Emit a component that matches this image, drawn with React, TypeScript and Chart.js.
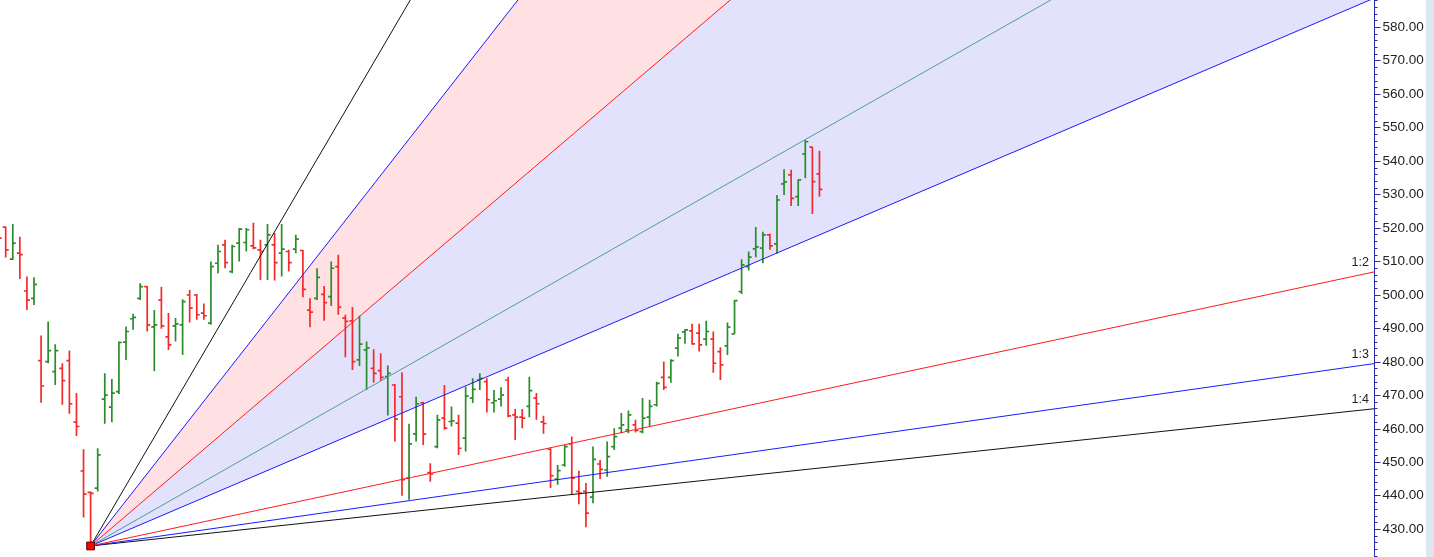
import React, { useEffect, useRef } from "react";
import { Chart, registerables } from "chart.js";

Chart.register(...registerables);

// ---- OHLC data (bar index starts at firstBar) ----
const firstBar = -1;
const opens = [
  519.5, 520.2, 510.6, 512.4, 501.1, 498.9, 480.3, 480.0, 477.0, 478.0, 480.3, 461.9, 447.3, 440.9, 442.2, 468.8,
  466.4, 471.0, 485.8, 492.8, 498.9, 502.4, 490.4, 498.4, 487.4, 490.7, 491.0, 499.9, 499.9, 494.5, 491.5, 509.4,
  514.9, 506.9, 515.4, 515.6, 514.6, 513.4, 514.9, 514.9, 512.4, 512.9, 513.6, 513.2, 495.4, 498.9, 500.1, 499.4,
  508.4, 493.0, 492.2, 480.5, 483.5, 478.0, 477.3, 475.5, 473.0, 469.5, 445.2, 458.4, 467.7, 446.8, 454.6, 463.1,
  462.1, 461.6, 457.1, 469.1, 474.5, 474.0, 467.7, 468.8, 474.5, 464.1, 463.4, 466.6, 469.1, 462.0, 453.8, 444.9,
  449.1, 455.4, 441.2, 441.2, 439.5, 449.4, 447.6, 454.6, 460.1, 459.6, 461.1, 459.1, 463.4, 467.1, 475.3, 475.3,
  484.0, 488.9, 489.2, 488.5, 486.7, 486.7, 483.0, 484.7, 488.3, 500.9, 508.4, 513.7, 513.9, 517.9, 515.2, 533.1,
  535.8, 529.3, 542.1, 544.1, 536.1,
];
const highs = [
  520.5, 520.3, 521.1, 517.3, 505.4, 505.2, 487.8, 492.0, 485.2, 479.5, 483.3, 470.6, 453.8, 441.2, 454.1, 476.5,
  474.8, 486.0, 490.5, 494.3, 503.4, 502.5, 495.4, 502.4, 494.5, 493.0, 498.6, 501.4, 500.2, 497.4, 509.9, 514.9,
  516.4, 514.9, 519.9, 519.9, 521.5, 516.4, 521.1, 518.4, 521.1, 513.4, 517.9, 513.4, 498.9, 507.9, 502.6, 509.9,
  511.9, 494.0, 496.3, 493.7, 486.0, 483.7, 482.5, 478.8, 473.3, 476.8, 461.4, 469.5, 468.0, 449.6, 464.1, 473.0,
  466.6, 464.1, 472.5, 475.0, 476.5, 475.0, 471.5, 472.3, 475.5, 465.8, 465.8, 475.5, 470.6, 463.8, 454.1, 449.1,
  455.1, 457.6, 447.4, 443.7, 454.6, 450.6, 456.1, 460.1, 464.6, 465.4, 462.6, 469.1, 468.6, 474.0, 480.0, 480.7,
  488.3, 489.7, 491.3, 491.3, 492.2, 489.0, 484.3, 491.7, 498.4, 510.6, 512.9, 520.2, 518.8, 518.2, 529.8, 537.5,
  537.3, 534.5, 546.2, 544.2, 543.0,
];
const lows = [
  512.0, 511.1, 510.4, 504.7, 495.4, 496.9, 467.7, 479.5, 473.0, 467.1, 464.4, 457.8, 433.4, 424.9, 441.2, 461.4,
  461.9, 470.3, 480.5, 489.5, 498.4, 489.0, 477.1, 489.8, 483.5, 486.0, 482.0, 491.7, 492.5, 492.5, 491.0, 506.4,
  507.9, 506.4, 509.9, 512.9, 513.6, 504.4, 504.4, 504.2, 505.4, 506.9, 512.4, 499.2, 490.3, 498.4, 492.2, 496.6,
  494.0, 481.3, 477.5, 478.7, 471.5, 473.7, 474.3, 463.9, 456.1, 439.9, 438.7, 456.1, 455.1, 444.1, 454.1, 459.6,
  460.6, 452.1, 453.1, 467.6, 471.5, 464.8, 464.8, 466.6, 463.4, 456.6, 460.1, 463.4, 462.6, 458.4, 442.2, 443.2,
  448.6, 440.2, 437.4, 430.5, 437.7, 444.9, 445.6, 453.6, 458.6, 458.6, 458.8, 458.6, 460.6, 466.6, 471.5, 473.7,
  481.5, 485.3, 485.0, 483.0, 484.7, 476.7, 474.5, 482.0, 488.3, 500.2, 507.2, 511.2, 509.4, 513.4, 512.2, 529.8,
  526.5, 526.5, 534.8, 524.1, 529.3,
];
const closes = [
  516.9, 513.4, 515.4, 512.0, 498.4, 503.1, 472.7, 483.3, 483.3, 474.3, 467.4, 460.6, 440.4, 440.6, 452.1, 470.0,
  470.6, 485.7, 489.0, 493.2, 502.4, 491.0, 491.0, 490.7, 485.0, 491.3, 497.9, 496.0, 494.0, 493.7, 508.4, 512.9,
  509.6, 514.4, 519.6, 519.4, 514.0, 512.9, 517.9, 509.6, 513.6, 509.6, 516.6, 501.6, 494.8, 505.2, 497.6, 507.9,
  496.3, 492.0, 480.0, 485.2, 484.1, 476.5, 475.3, 476.5, 462.8, 444.7, 455.4, 467.4, 458.3, 446.4, 462.6, 460.1,
  462.3, 454.1, 469.7, 471.7, 475.0, 468.6, 468.3, 470.0, 463.8, 463.4, 463.1, 471.3, 467.4, 461.5, 445.9, 447.4,
  454.6, 445.2, 440.7, 434.7, 450.8, 447.8, 451.6, 457.6, 461.1, 464.1, 459.4, 463.1, 466.6, 473.5, 472.3, 480.3,
  487.0, 489.5, 485.3, 485.0, 489.0, 479.5, 479.0, 490.3, 498.2, 508.9, 511.2, 514.3, 517.9, 514.6, 528.3, 533.7,
  528.8, 534.3, 545.7, 533.8, 531.5,
];

// ---- Gann fan ----
const fanOriginBar = 12;
const fanOriginPrice = 424.9;
const fanEndBar = 193.37;
const fanNames = ["4:1", "3:1", "2:1", "4:3", "1:1", "1:2", "1:3", "1:4"];
const fanEndPrices = [1080, 915, 752.3, 643, 588.6, 506.8, 479.4, 465.9];
const fanLabelled = ["1:2", "1:3", "1:4"];

// ---- axis ----
const xMin = -0.806;
const xMax = 193.37;
const yMin = 421.6;
const yMax = 588.07;
const majorStep = 10;
const minorStep = 2;

// ---- styles ----
const fanColors = ["#111111", "#1a1aff", "#ff1a1a", "#4f9c98", "#1a1aff", "#ff1a1a", "#1a1aff", "#111111"];
const fanFill: (string | false)[] = [false, "+1", "+2", false, false, false, false, false];
const fanFillColors = ["transparent", "#ffe0e3", "#e2e2fd", "transparent", "transparent", "transparent", "transparent", "transparent"];
const upColor = "#2b8c2b";
const downColor = "#f42a2a";
const axisColor = "#2a2aa8";
const textColor = "#222222";
const FONT = '13.5px "Liberation Sans", Arial, sans-serif';

const ohlcPlugin = {
  id: "ohlcBars",
  beforeDatasetsDraw(chart: any) {
    const { ctx, chartArea, scales } = chart;
    const xs = scales.x;
    const ys = scales.y;
    ctx.save();
    ctx.beginPath();
    ctx.rect(chartArea.left, chartArea.top, chartArea.right - chartArea.left, chartArea.bottom - chartArea.top);
    ctx.clip();
    ctx.lineWidth = 1.7;
    for (let k = 0; k < opens.length; k++) {
      const px = xs.getPixelForValue(firstBar + k);
      const o = ys.getPixelForValue(opens[k]);
      const h = ys.getPixelForValue(highs[k]);
      const l = ys.getPixelForValue(lows[k]);
      const c = ys.getPixelForValue(closes[k]);
      ctx.strokeStyle = closes[k] >= opens[k] ? upColor : downColor;
      ctx.beginPath();
      ctx.moveTo(px, h);
      ctx.lineTo(px, l);
      ctx.moveTo(px - 3, o);
      ctx.lineTo(px, o);
      ctx.moveTo(px, c);
      ctx.lineTo(px + 3, c);
      ctx.stroke();
    }
    ctx.restore();
  },
};

const axisPlugin = {
  id: "rightAxis",
  afterDraw(chart: any) {
    const { ctx, chartArea, scales, width, height } = chart;
    const ys = scales.y;
    const ax = Math.round(chartArea.right) + 0.5;
    ctx.save();
    ctx.fillStyle = "#dde6f1";
    ctx.fillRect(width - 8, 0, 8, height);
    ctx.strokeStyle = axisColor;
    ctx.lineWidth = 1;
    ctx.beginPath();
    ctx.moveTo(ax, 0);
    ctx.lineTo(ax, height);
    ctx.stroke();
    ctx.font = FONT;
    ctx.textAlign = "left";
    ctx.textBaseline = "middle";
    for (let v = Math.ceil((yMin - 2) / minorStep) * minorStep; v <= yMax + 2; v += minorStep) {
      const py = Math.round(ys.getPixelForValue(v)) + 0.5;
      const major = Math.abs(v % majorStep) < 1e-6;
      ctx.strokeStyle = axisColor;
      ctx.beginPath();
      ctx.moveTo(ax, py);
      ctx.lineTo(ax + (major ? 6 : 3), py);
      ctx.stroke();
      if (major) {
        ctx.fillStyle = textColor;
        ctx.fillText(v.toFixed(2), ax + 8, py);
      }
    }
    ctx.textAlign = "right";
    ctx.textBaseline = "middle";
    ctx.font = '12.5px "Liberation Sans", Arial, sans-serif';
    fanNames.forEach((name, k) => {
      if (fanLabelled.indexOf(name) < 0) return;
      const py = ys.getPixelForValue(fanEndPrices[k]);
      ctx.fillStyle = textColor;
      ctx.fillText(name, chartArea.right - 5, py - 9);
    });
    ctx.restore();
  },
};

export default function App() {
  const canvasRef = useRef<HTMLCanvasElement | null>(null);
  useEffect(() => {
    const canvas = canvasRef.current;
    if (!canvas) return;
    const datasets: any[] = fanEndPrices.map((end, k) => ({
      type: "line",
      label: fanNames[k],
      data: [
        { x: fanOriginBar, y: fanOriginPrice },
        { x: fanEndBar, y: end },
      ],
      borderColor: fanColors[k],
      borderWidth: 1,
      pointRadius: 0,
      tension: 0,
      fill: fanFill[k],
      backgroundColor: fanFillColors[k],
    }));
    datasets.push({
      type: "line",
      label: "origin",
      data: [{ x: fanOriginBar, y: fanOriginPrice }],
      showLine: false,
      pointStyle: "rect",
      pointRadius: 5.5,
      pointBackgroundColor: "#ff0000",
      pointBorderColor: "#5a0000",
      pointBorderWidth: 1,
      fill: false,
      order: -1,
      clip: false,
    });
    const chart = new Chart(canvas, {
      type: "line",
      data: { datasets },
      options: {
        responsive: false,
        animation: false,
        layout: { autoPadding: false, padding: { left: 0, right: 60, top: 0, bottom: 0 } },
        scales: {
          x: { type: "linear", min: xMin, max: xMax, display: false },
          y: { type: "linear", min: yMin, max: yMax, display: false },
        },
        plugins: {
          legend: { display: false },
          tooltip: { enabled: false },
          filler: { drawTime: "beforeDatasetsDraw" },
        } as any,
      },
      plugins: [ohlcPlugin, axisPlugin],
    } as any);
    return () => chart.destroy();
  }, []);
  return (
    <div style={{ position: "fixed", left: 0, top: 0, width: 1434, height: 557, background: "#fff" }}>
      <canvas ref={canvasRef} width={1434} height={557} style={{ display: "block" }} />
    </div>
  );
}
